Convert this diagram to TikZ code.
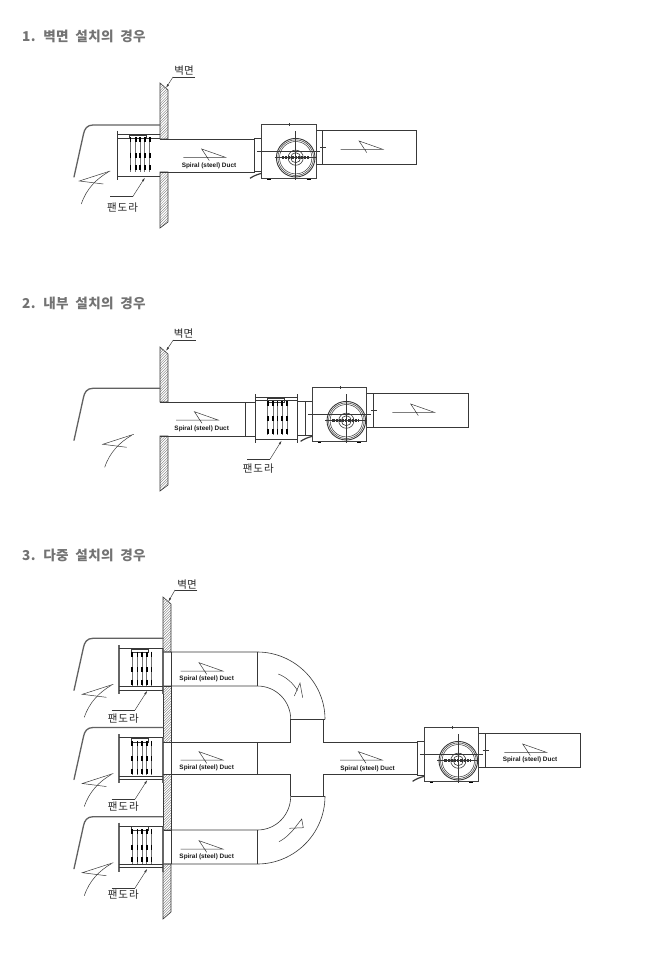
\documentclass[tikz,border=0pt]{standalone}
\usepackage{fontspec}
\setmainfont{Liberation Sans}
\newfontfamily\krfont{Noto Sans CJK KR}
\newfontfamily\krwide[LetterSpace=9]{Noto Sans CJK KR}
\newfontfamily\krhead[LetterSpace=2,WordSpace=2]{Noto Sans CJK KR}
\usetikzlibrary{arrows.meta}
\definecolor{ink}{gray}{0.22}
\definecolor{head}{gray}{0.45}
\tikzset{
  ln/.style={draw=ink,line width=0.6pt},
  thin ln/.style={draw=ink,line width=0.5pt},
  heavy/.style={draw=ink,line width=1.1pt},
  hood/.style={draw=black!62,line width=1.3pt,line cap=round},
  flange/.style={draw=black!60,line width=1.7pt},
  leader/.style={draw=ink,line width=0.45pt},
  leadarrow/.style={draw=ink,line width=0.45pt,-{Latex[length=4pt,width=2pt]}},
  heading/.style={anchor=west,inner sep=0pt,text=head,font=\krhead\bfseries\fontsize{13.6}{15}\selectfont},
  krlabel/.style={inner sep=0pt,text=black!85,font=\krfont\fontsize{10.5}{12}\selectfont},
  pandlabel/.style={inner sep=0pt,text=black!85,font=\krwide\fontsize{10.5}{12}\selectfont},
  ductlabel/.style={inner sep=0pt,text=black!90,font=\bfseries\fontsize{6.4}{8}\selectfont}
}
% hatched wall piece
\newcommand{\Hatchpoly}[1]{%
  \begin{scope}
    \clip #1;
    \foreach \k in {80,82.6,...,940}{\draw[draw=black!55,line width=0.35pt] (155,\k) -- (180,\k-25);}
  \end{scope}
  \draw[ln] #1;}
% Z-shaped flow arrow
\newcommand{\Zarrow}[2]{%
  \draw[thin ln,shift={(#1,#2)}] (0,0) -- (42,0) -- (18.4,-8.3) -- (26,3.3);}
% room-air arrow
\newcommand{\Roomarrow}[2]{%
  \begin{scope}[shift={(#1,#2)}]
    \draw[thin ln] (31,0) -- (0,10) -- (24,13);
    \draw[thin ln] (2,33) .. controls (7,18) and (17,8) .. (29,1);
  \end{scope}}
% hood
\newcommand{\Hood}[3]{% wall x, top y, dummy
  \draw[hood] (#1,#2) -- (93,#2) .. controls (87,#2) and (84.5,#2+4) .. (83.5,#2+9) -- (74,#2+52);}
% damper internals
\newcommand{\Blades}[2]{%
  \begin{scope}[shift={(#1,#2)}]
    \draw[thin ln] (12,4) rectangle (29,7.5);
    \foreach \bx in {12.7,18,22.6,27.2,32}{%
      \draw[draw=black!55,line width=0.9pt] (\bx,7) -- (\bx,41);
      \foreach \by in {9,24.5,37}{\draw[draw=black,line width=1.7pt] (\bx,\by-2.5) -- (\bx,\by+2.5);}
    }
  \end{scope}}
% fan
\newcommand{\Fan}[3]{% x, y, outlet end x relative
  \begin{scope}[shift={(#1,#2)}]
    \draw[ln] (-7.4,14) rectangle (0,47.5);
    \draw[heavy,draw=black!75] (0,0) rectangle (54.5,54.6);
    \draw[heavy] (54.5,6) -- (60.6,6);
    \draw[heavy] (54.5,40) -- (60.6,40);
    \draw[ln] (60.6,6) -- (60.6,40);
    \draw[ln] (60.6,6) -- (#3,6) -- (#3,40) -- (60.6,40);
    \draw[thin ln] (-4.5,27.4) -- (58.5,27.4);
    \draw[thin ln] (34,7) -- (34,55.5);
    \draw[thin ln] (27.6,-1.5) -- (27.6,1.5);
    \draw[thin ln] (58.3,23) -- (64.5,23);
    \draw[thin ln] (13,33.4) -- (55,33.4);
    \draw[ln,line width=0.9pt] (34,33.4) circle (19.3);
    \draw[thin ln] (34,33.4) circle (17.8);
    \draw[thin ln] (34,33.4) circle (16.2);
    \draw[ln] (34,33.4) circle (7.6);
    \draw[ln] (34,33.4) circle (5);
    \draw[draw=black!80,line width=2.6pt,dash pattern=on 2.2pt off 1pt] (20,33.4) -- (47,33.4);
    \draw[draw=ink,line width=1.2pt] (-11.7,54) .. controls (-8,51.5) and (-4,50) .. (0,49);
    \draw[draw=black,line width=1.1pt] (5.5,55) -- (9,55);
    \draw[draw=black,line width=1.1pt] (45,55) -- (49,55);
  \end{scope}}
\begin{document}
\begin{tikzpicture}[x=1pt,y=-1pt]
\useasboundingbox (0,0) rectangle (645,957);
\fill[white] (0,0) rectangle (645,957);

% ---------- headings
\node[heading] (h1) at (22,36.3) {1. 벽면 설치의 경우};
\node[heading] (h2) at (22,303.3) {2. 내부 설치의 경우};
\node[heading] (h3) at (22,555.3) {3. 다중 설치의 경우};

% ---------- section 1
\Hatchpoly{(160,83) -- (168,90) -- (168,139) -- (160,139) -- cycle}
\Hatchpoly{(160,172) -- (168,172) -- (168,222) -- (160,228) -- cycle}
\Hood{160}{125}{}
\Roomarrow{79.3}{171}
% damper 1
\draw[ln,line width=0.9pt] (117.7,131) -- (117.7,180);
\draw[ln] (117.7,134) -- (160,134);
\draw[ln] (117.7,138.7) -- (160,138.7);
\draw[heavy] (117.7,176.7) -- (160,176.7);
\Blades{117.7}{131}
% duct 1
\draw[ln] (160,139) -- (254.5,139);
\draw[ln] (160,172) -- (254.5,172);
\Fan{261.7}{124.3}{155}
\Zarrow{183.3}{157.3}
\Zarrow{340.7}{149.3}
\node[ductlabel] (d1) at (209,166) {Spiral (steel) Duct};
\node[krlabel] (w1) at (184,71) {벽면};
\coordinate (w1a) at (195,77);
\coordinate (w1b) at (173,77);
\coordinate (w1c) at (166,88);
\draw[leader] (w1a) -- (w1b);
\draw[leadarrow] (w1b) -- (w1c);
\node[pandlabel] (p1) at (122.5,208) {팬도라};
\coordinate (p1a) at (110,196.7);
\coordinate (p1b) at (132.7,196.7);
\coordinate (p1c) at (145,177.5);
\draw[leader] (p1a) -- (p1b);
\draw[leadarrow] (p1b) -- (p1c);

% ---------- section 2
\Hatchpoly{(160,347) -- (168,354) -- (168,402) -- (160,402) -- cycle}
\Hatchpoly{(160,436) -- (168,436) -- (168,485) -- (160,491) -- cycle}
\Hood{160}{388.3}{}
\Roomarrow{102.7}{434.3}
% duct 2
\draw[ln] (160,402) -- (255,402);
\draw[ln] (160,436) -- (255,436);
\draw[ln] (245,402) -- (245,436);
% damper 2
\draw[ln,line width=0.9pt] (255,394.3) -- (255,442.7);
\draw[ln,line width=0.9pt] (297.3,394.3) -- (297.3,442.7);
\draw[ln] (255,397.3) -- (297.3,397.3);
\draw[ln] (255,400.7) -- (297.3,400.7);
\draw[heavy] (255,439.3) -- (297.3,439.3);
\Blades{255}{394.3}
\draw[ln] (297.3,401.5) -- (305,401.5);
\draw[ln] (297.3,435) -- (305,435);
\Fan{312.3}{387.3}{156.4}
\Zarrow{176}{420}
\Zarrow{392.3}{412.3}
\node[ductlabel] (d2) at (201.7,429.3) {Spiral (steel) Duct};
\node[krlabel] (w2) at (183.5,333.5) {벽면};
\coordinate (w2a) at (195.7,340);
\coordinate (w2b) at (173.3,340);
\coordinate (w2c) at (166,351);
\draw[leader] (w2a) -- (w2b);
\draw[leadarrow] (w2b) -- (w2c);
\node[pandlabel] (p2) at (258.3,469) {팬도라};
\coordinate (p2a) at (247.3,459.3);
\coordinate (p2b) at (270,459.3);
\coordinate (p2c) at (281.7,440.5);
\draw[leader] (p2a) -- (p2b);
\draw[leadarrow] (p2b) -- (p2c);

% ---------- section 3
\Hatchpoly{(163,597) -- (171,604) -- (171,652) -- (163,652) -- cycle}
\Hatchpoly{(163,686) -- (171,686) -- (171,742) -- (163,742) -- cycle}
\Hatchpoly{(163,774) -- (171,774) -- (171,830) -- (163,830) -- cycle}
\Hatchpoly{(163,864) -- (171,864) -- (171,912) -- (163,919) -- cycle}
\Hood{163}{638.3}{}
\Hood{163}{727.5}{}
\Hood{163}{816.7}{}
\Roomarrow{82.3}{684.3}
\Roomarrow{82.3}{773.5}
\Roomarrow{82.3}{862.7}
\foreach \fy in {645,734.3,822.7}{%
  \draw[flange] (119.3,\fy) -- (119.3,\fy+49);
  \draw[flange] (162.7,\fy+3) -- (162.7,\fy+49);
  \draw[ln] (119.3,\fy+3.3) -- (162.7,\fy+3.3);
  \draw[ln] (119.3,\fy+41.7) -- (162.7,\fy+41.7);
  \draw[ln] (119.3,\fy+45) -- (162.7,\fy+45);
  \Blades{119.5}{\fy}
}
\foreach \oy/\oz in {652/686,742/774,830/864}{\draw[thin ln] (171,\oy) -- (171,\oz);}
% ducts
\draw[ln] (163,652) -- (257.3,652) .. controls (294,652) and (325,682) .. (325,719.3);
\draw[ln] (163,686) -- (257.3,686) .. controls (276,686) and (290.7,701) .. (290.7,719.3);
\draw[ln] (257.3,652) -- (257.3,686);
\draw[ln] (290.7,719.3) -- (325,719.3);
\draw[ln] (290.7,719.3) -- (290.7,742) -- (163,742);
\draw[ln] (323.3,719.3) -- (323.3,742) -- (417.3,742);
\draw[ln] (257.3,742) -- (257.3,774);
\draw[ln] (163,774) -- (290.7,774) -- (290.7,796);
\draw[ln] (417.3,774.3) -- (323.3,774.3) -- (323.3,796);
\draw[ln] (290.7,796) -- (325,796);
\draw[ln] (163,864) -- (257.3,864) .. controls (294,864) and (325,834) .. (325,796);
\draw[ln] (163,830) -- (257.3,830) .. controls (276,830) and (290.7,815) .. (290.7,796);
\draw[ln] (257.3,830) -- (257.3,864);
\Fan{424.3}{727.3}{156.4}
% elbow arrows
\draw[thin ln] (278.3,674) .. controls (286,677) and (293,683) .. (297.5,690.5);
\draw[thin ln] (294.3,696) -- (300,683) -- (302.7,697.7);
\draw[thin ln] (279,841.7) .. controls (286,838) and (292,832) .. (297,825);
\draw[thin ln] (289.3,828.3) -- (303.3,827.7) -- (301.7,819) -- (297,825);
\Zarrow{180.7}{671}
\Zarrow{180.7}{760}
\Zarrow{180.7}{849}
\Zarrow{340}{760}
\Zarrow{504.3}{752.3}
\node[ductlabel] (d3a) at (206.7,679.3) {Spiral (steel) Duct};
\node[ductlabel] (d3b) at (206.7,768.3) {Spiral (steel) Duct};
\node[ductlabel] (d3c) at (206.7,857.3) {Spiral (steel) Duct};
\node[ductlabel] (d3d) at (367.5,768.7) {Spiral (steel) Duct};
\node[ductlabel] (d3e) at (530,760) {Spiral (steel) Duct};
\node[krlabel] (w3) at (187,584.5) {벽면};
\coordinate (w3a) at (197.3,590);
\coordinate (w3b) at (175,590);
\coordinate (w3c) at (168.3,601.7);
\draw[leader] (w3a) -- (w3b);
\draw[leadarrow] (w3b) -- (w3c);
\node[pandlabel] (p3a) at (123.3,718.5) {팬도라};
\coordinate (p3a1) at (111.7,710);
\coordinate (p3a2) at (135,710);
\coordinate (p3a3) at (147.3,690.7);
\draw[leader] (p3a1) -- (p3a2);
\draw[leadarrow] (p3a2) -- (p3a3);
\node[pandlabel] (p3b) at (123.3,806.5) {팬도라};
\coordinate (p3b1) at (111.7,799.3);
\coordinate (p3b2) at (135,799.3);
\coordinate (p3b3) at (147.3,780);
\draw[leader] (p3b1) -- (p3b2);
\draw[leadarrow] (p3b2) -- (p3b3);
\node[pandlabel] (p3c) at (123.3,895) {팬도라};
\coordinate (p3c1) at (111.7,888);
\coordinate (p3c2) at (135,888);
\coordinate (p3c3) at (147.3,868.7);
\draw[leader] (p3c1) -- (p3c2);
\draw[leadarrow] (p3c2) -- (p3c3);
\end{tikzpicture}
\end{document}
